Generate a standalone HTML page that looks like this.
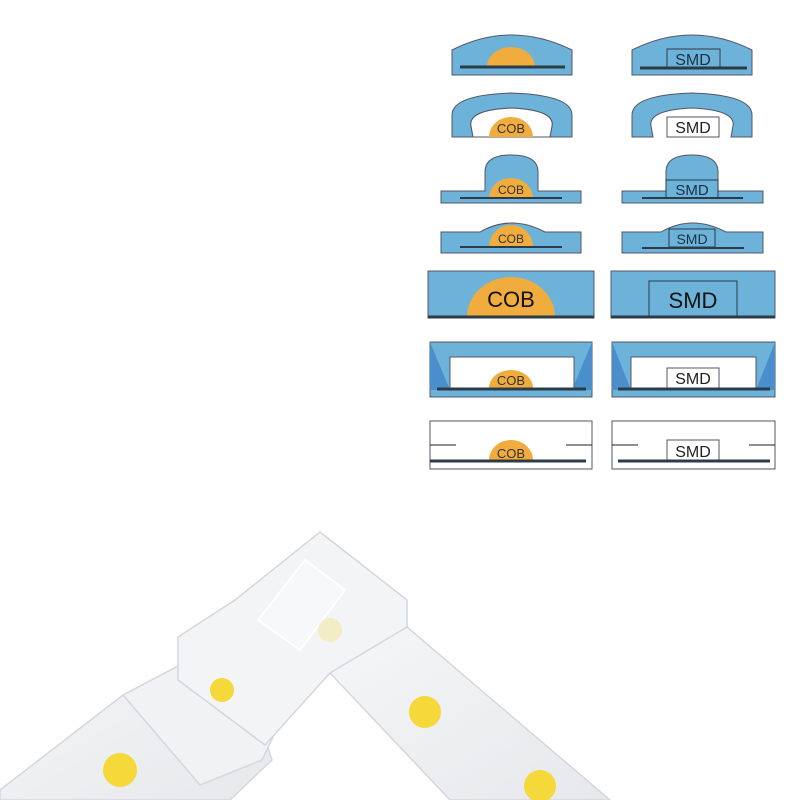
<!DOCTYPE html>
<html><head><meta charset="utf-8"><style>
html,body{margin:0;padding:0;background:#fff;width:800px;height:800px;overflow:hidden}
svg{display:block}
text{font-family:"Liberation Sans",sans-serif}
</style></head><body>
<svg width="800" height="800" viewBox="0 0 800 800" xmlns="http://www.w3.org/2000/svg">
<defs>
<linearGradient id="strip" x1="0" y1="0" x2="1" y2="1">
<stop offset="0" stop-color="#f5f6f7"/><stop offset="1" stop-color="#e6e8eb"/></linearGradient>
</defs>
<g stroke="#556" stroke-width="1">
<!-- Row1 -->
<path d="M452 50 Q511 20 572 50 L572 75 L452 75 Z" fill="#6db3d9"/>
<path d="M487 67 A24 20 0 0 1 535 67 Z" fill="#f0ac3c" stroke="none"/>
<line x1="460" y1="67" x2="565" y2="67" stroke="#2d3b48" stroke-width="3"/>
<path d="M632 50 Q692 20 752 50 L752 75 L632 75 Z" fill="#6db3d9"/>
<rect x="667" y="49" width="53" height="19" fill="#6db3d9" stroke="#2d3b48"/>
<text x="693" y="65" font-size="16" text-anchor="middle" fill="#1d2f45" stroke="none">SMD</text>
<line x1="640" y1="68" x2="747" y2="68" stroke="#2d3b48" stroke-width="3"/>
<!-- Row2 -->
<path d="M452 115 Q452 95 511 93 Q572 95 572 115 L572 137 L550 137 L552 126 Q555 110 511 108 Q468 110 471 126 L473 137 L452 137 Z" fill="#6db3d9"/>
<path d="M473 137 L471 126 Q468 110 511 108 Q555 110 552 126 L550 137 Z" fill="#fff"/>
<path d="M489 137 A22 20 0 0 1 533 137 Z" fill="#f0ac3c" stroke="none"/>
<text x="511" y="133" font-size="13" text-anchor="middle" fill="#333" stroke="none">COB</text>
<path d="M632 115 Q632 95 692 93 Q752 95 752 115 L752 137 L731 137 L733 126 Q736 110 692 108 Q648 110 651 126 L653 137 L632 137 Z" fill="#6db3d9"/>
<rect x="667" y="117" width="52" height="20" fill="#fff"/>
<text x="693" y="133" font-size="16" text-anchor="middle" fill="#222" stroke="none">SMD</text>
<!-- Row3 -->
<path d="M441 191 L485 191 L485 172 Q485 155 511 155 Q538 155 538 172 L538 191 L581 191 L581 203 L441 203 Z" fill="#6db3d9"/>
<path d="M489 198 A22 20 0 0 1 533 198 Z" fill="#f0ac3c" stroke="none"/>
<text x="511" y="194" font-size="12" text-anchor="middle" fill="#333" stroke="none">COB</text>
<line x1="460" y1="198" x2="562" y2="198" stroke="#2d3b48" stroke-width="2"/>
<path d="M622 191 L666 191 L666 172 Q666 155 692 155 Q718 155 718 172 L718 191 L763 191 L763 203 L622 203 Z" fill="#6db3d9"/>
<rect x="666" y="180" width="52" height="18" fill="#6db3d9" stroke="#2d3b48"/>
<text x="692" y="195" font-size="15" text-anchor="middle" fill="#1d2f45" stroke="none">SMD</text>
<line x1="642" y1="198" x2="743" y2="198" stroke="#2d3b48" stroke-width="2"/>
<!-- Row4 -->
<path d="M441 232 L480 232 Q511 214 545 232 L581 232 L581 253 L441 253 Z" fill="#6db3d9"/>
<path d="M489 247 A22 22 0 0 1 533 247 Z" fill="#f0ac3c" stroke="none"/>
<text x="511" y="243" font-size="12" text-anchor="middle" fill="#333" stroke="none">COB</text>
<line x1="460" y1="247" x2="562" y2="247" stroke="#2d3b48" stroke-width="2"/>
<path d="M622 232 L661 232 Q692 214 726 232 L763 232 L763 253 L622 253 Z" fill="#6db3d9"/>
<rect x="669" y="229" width="46" height="18" fill="#6db3d9" stroke="#2d3b48"/>
<text x="692" y="244" font-size="14" text-anchor="middle" fill="#1d2f45" stroke="none">SMD</text>
<line x1="642" y1="248" x2="744" y2="248" stroke="#2d3b48" stroke-width="2"/>
<!-- Row5 -->
<rect x="428" y="271" width="166" height="47" fill="#6db3d9"/>
<path d="M467 317 A44 40 0 0 1 555 317 Z" fill="#f0ac3c" stroke="none"/>
<text x="511" y="307" font-size="22" text-anchor="middle" fill="#111" stroke="none">COB</text>
<line x1="428" y1="317" x2="594" y2="317" stroke="#2d3b48" stroke-width="3"/>
<rect x="611" y="271" width="164" height="47" fill="#6db3d9"/>
<rect x="649" y="281" width="88" height="37" fill="#6db3d9" stroke="#2d3b48"/>
<text x="693" y="308" font-size="22" text-anchor="middle" fill="#111" stroke="none">SMD</text>
<line x1="611" y1="317" x2="775" y2="317" stroke="#2d3b48" stroke-width="3"/>
<!-- Row6 -->
<rect x="430" y="342" width="162" height="55" fill="#6db3d9"/>
<path d="M430 342 L450 390 L430 390 Z M592 342 L572 390 L592 390 Z" fill="#4a8fcc" stroke="none"/>
<rect x="450" y="357" width="124" height="31" fill="#fff"/>
<path d="M489 388 A22 18 0 0 1 533 388 Z" fill="#f0ac3c" stroke="none"/>
<text x="511" y="385" font-size="13" text-anchor="middle" fill="#333" stroke="none">COB</text>
<line x1="437" y1="389" x2="586" y2="389" stroke="#2d3b48" stroke-width="3"/>
<rect x="612" y="342" width="163" height="55" fill="#6db3d9"/>
<path d="M612 342 L631 390 L612 390 Z M775 342 L756 390 L775 390 Z" fill="#4a8fcc" stroke="none"/>
<rect x="631" y="357" width="125" height="31" fill="#fff"/>
<rect x="667" y="368" width="52" height="20" fill="#fff"/>
<text x="693" y="384" font-size="16" text-anchor="middle" fill="#222" stroke="none">SMD</text>
<line x1="618" y1="389" x2="770" y2="389" stroke="#2d3b48" stroke-width="3"/>
<!-- Row7 -->
<rect x="430" y="421" width="162" height="48" fill="#fff"/>
<line x1="430" y1="445" x2="456" y2="445" stroke="#222"/>
<line x1="566" y1="445" x2="592" y2="445" stroke="#222"/>
<path d="M489 460 A22 20 0 0 1 533 460 Z" fill="#f0ac3c" stroke="none"/>
<text x="511" y="458" font-size="13" text-anchor="middle" fill="#333" stroke="none">COB</text>
<line x1="430" y1="461" x2="586" y2="461" stroke="#2d3b48" stroke-width="3"/>
<rect x="612" y="421" width="163" height="48" fill="#fff"/>
<line x1="612" y1="445" x2="638" y2="445" stroke="#222"/>
<line x1="749" y1="445" x2="775" y2="445" stroke="#222"/>
<rect x="667" y="440" width="52" height="20" fill="#fff"/>
<text x="693" y="457" font-size="16" text-anchor="middle" fill="#222" stroke="none">SMD</text>
<line x1="618" y1="461" x2="770" y2="461" stroke="#2d3b48" stroke-width="3"/>
</g>
<!-- photo -->
<g stroke="#d4d7dc" stroke-width="1.5">
<polygon points="383,633 407,627 610,800 450,800 330,673" fill="url(#strip)"/>
<polygon points="123,695 235,640 272,760 230,800 0,800 0,790" fill="url(#strip)"/>
<polygon points="123,695 180,665 282,718 262,760 200,785" fill="#f1f2f4"/>
<polygon points="320,532 407,600 407,627 330,673 265,745 178,680 178,637 235,600" fill="#f3f4f6"/>
<polygon points="305,560 345,590 300,650 258,620" fill="#f7f8f9" stroke="#fff" stroke-width="2"/>
</g>
<g fill="#f5d83a">
<circle cx="425" cy="712" r="16"/>
<circle cx="540" cy="786" r="16"/>
<circle cx="120" cy="770" r="17"/>
<circle cx="222" cy="690" r="12"/>
<circle cx="330" cy="630" r="12" fill="#f3ecc4"/>
</g>
</svg>
</body></html>
